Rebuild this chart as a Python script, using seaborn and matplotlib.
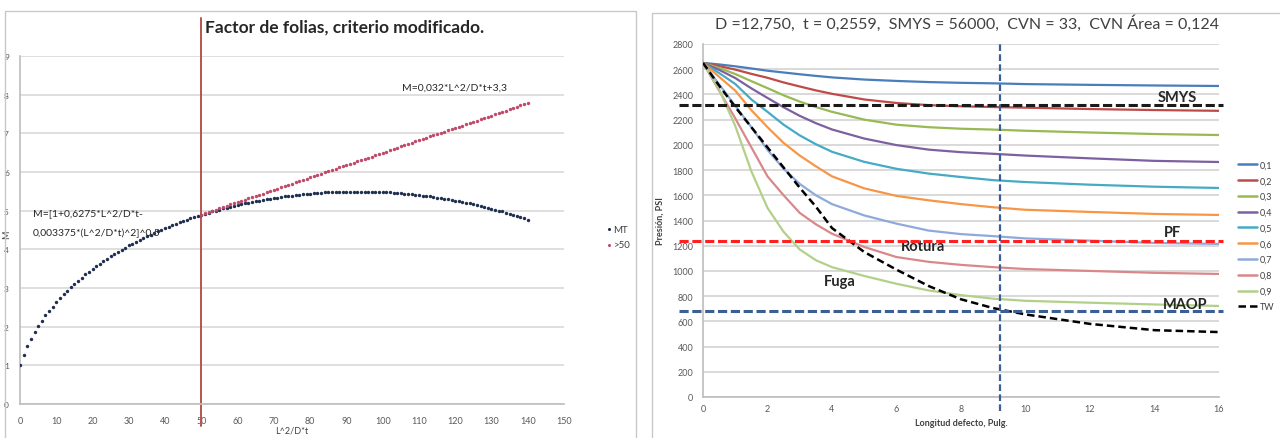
import matplotlib
matplotlib.use("Agg")
import matplotlib.pyplot as plt
from matplotlib.patches import Rectangle
from matplotlib.lines import Line2D
import pandas as pd
import seaborn as sns

# ---------------- left panel: Folias factor ----------------
Z_MT = list(range(0, 141))
M_MT = [1.00, 1.27, 1.50, 1.69, 1.86, 2.01, 2.15, 2.29, 2.41, 2.52,
        2.63, 2.74, 2.84, 2.93, 3.02, 3.11, 3.19, 3.27, 3.35, 3.42,
        3.49, 3.56, 3.63, 3.69, 3.76, 3.82, 3.88, 3.93, 3.99, 4.04,
        4.10, 4.15, 4.20, 4.25, 4.29, 4.34, 4.38, 4.43, 4.47, 4.51,
        4.55, 4.59, 4.63, 4.66, 4.70, 4.73, 4.77, 4.80, 4.83, 4.86,
        4.89, 4.92, 4.95, 4.98, 5.00, 5.03, 5.06, 5.08, 5.10, 5.13,
        5.15, 5.17, 5.19, 5.21, 5.23, 5.25, 5.26, 5.28, 5.30, 5.31,
        5.33, 5.34, 5.36, 5.37, 5.38, 5.39, 5.40, 5.41, 5.42, 5.43,
        5.44, 5.45, 5.46, 5.46, 5.47, 5.47, 5.48, 5.48, 5.48, 5.49,
        5.49, 5.49, 5.49, 5.49, 5.49, 5.49, 5.49, 5.49, 5.48, 5.48,
        5.48, 5.47, 5.47, 5.46, 5.45, 5.45, 5.44, 5.43, 5.42, 5.41,
        5.40, 5.39, 5.38, 5.37, 5.35, 5.34, 5.33, 5.31, 5.30, 5.28,
        5.26, 5.25, 5.23, 5.21, 5.19, 5.17, 5.15, 5.12, 5.10, 5.08,
        5.05, 5.03, 5.00, 4.98, 4.95, 4.92, 4.89, 4.86, 4.83, 4.80,
        4.76]
Z_50 = list(range(50, 141))
M_50 = [4.90, 4.93, 4.96, 5.00, 5.03, 5.06, 5.09, 5.12, 5.16, 5.19,
        5.22, 5.25, 5.28, 5.32, 5.35, 5.38, 5.41, 5.44, 5.48, 5.51,
        5.54, 5.57, 5.60, 5.64, 5.67, 5.70, 5.73, 5.76, 5.80, 5.83,
        5.86, 5.89, 5.92, 5.96, 5.99, 6.02, 6.05, 6.08, 6.12, 6.15,
        6.18, 6.21, 6.24, 6.28, 6.31, 6.34, 6.37, 6.40, 6.44, 6.47,
        6.50, 6.53, 6.56, 6.60, 6.63, 6.66, 6.69, 6.72, 6.76, 6.79,
        6.82, 6.85, 6.88, 6.92, 6.95, 6.98, 7.01, 7.04, 7.08, 7.11,
        7.14, 7.17, 7.20, 7.24, 7.27, 7.30, 7.33, 7.36, 7.40, 7.43,
        7.46, 7.49, 7.52, 7.56, 7.59, 7.62, 7.65, 7.68, 7.72, 7.75,
        7.78]
Z_LIMIT = 50
X_TICKS_L = list(range(0, 151, 10))
Y_TICKS_L = list(range(0, 10))

# ---------------- right panel: pressure vs defect length ----------------
LONGITUD = [0, 0.5, 1, 1.5, 2, 2.5, 3, 3.5, 4, 5, 6, 7, 8, 9, 10, 12, 14, 16]
P_01 = [2650, 2638, 2623, 2606, 2588, 2574, 2560, 2547, 2535, 2518, 2507, 2498, 2492, 2488, 2482, 2476, 2471, 2467]
P_02 = [2650, 2625, 2597, 2563, 2532, 2495, 2463, 2432, 2405, 2360, 2332, 2315, 2306, 2300, 2295, 2284, 2276, 2270]
P_03 = [2650, 2610, 2562, 2505, 2450, 2393, 2343, 2300, 2262, 2200, 2160, 2140, 2128, 2121, 2112, 2098, 2086, 2078]
P_04 = [2650, 2595, 2530, 2448, 2372, 2298, 2230, 2172, 2122, 2050, 1998, 1962, 1942, 1929, 1915, 1893, 1873, 1864]
P_05 = [2650, 2570, 2483, 2360, 2262, 2160, 2075, 2005, 1945, 1865, 1810, 1772, 1745, 1720, 1705, 1684, 1668, 1658]
P_06 = [2650, 2540, 2430, 2275, 2140, 2015, 1915, 1830, 1750, 1655, 1595, 1560, 1530, 1505, 1485, 1468, 1452, 1444]
P_07 = [2650, 2480, 2310, 2140, 1960, 1810, 1690, 1600, 1530, 1440, 1375, 1320, 1292, 1276, 1258, 1240, 1222, 1214]
P_08 = [2650, 2430, 2210, 1980, 1750, 1600, 1460, 1370, 1295, 1190, 1110, 1072, 1048, 1030, 1015, 1000, 985, 976]
P_09 = [2650, 2440, 2150, 1790, 1500, 1310, 1170, 1085, 1030, 960, 898, 845, 808, 780, 763, 748, 734, 722]
P_TW = [2650, 2470, 2300, 2140, 1980, 1820, 1660, 1510, 1340, 1150, 1010, 880, 775, 705, 655, 580, 530, 515]
CURVE_LABELS = ["0,1", "0,2", "0,3", "0,4", "0,5", "0,6", "0,7", "0,8", "0,9", "TW"]
CURVE_COLORS = ["#4a7ebb", "#be4b48", "#98b954", "#7d60a0", "#46aac5",
                "#f79646", "#8eaadb", "#d9888a", "#b3d08a", "#000000"]

P_SMYS = 2320
P_PF = 1240
P_MAOP = 680
L_CRIT = 9.2

GRID = "#d9d9d9"
TICK = "#595959"

sns.set_theme(style="white")
plt.rcParams["font.family"] = ["Lato", "DejaVu Sans"]

fig = plt.figure(figsize=(12.8, 4.39), dpi=100)

# panel frames
fig.patches.append(Rectangle((5 / 1280, -0.02), 631 / 1280, 1.006 - 6 / 439,
                             transform=fig.transFigure, fill=False,
                             edgecolor="#c8c8c8", lw=1.0))
fig.patches.append(Rectangle((652 / 1280, -0.02), 0.5, 1.004 - 7 / 439,
                             transform=fig.transFigure, fill=False,
                             edgecolor="#c8c8c8", lw=1.0))

# ---------- left axes ----------
ax1 = fig.add_axes([20 / 1280, 1 - 405 / 439, 544 / 1280, 348 / 439])
ax1.set_xlim(0, 150)
ax1.set_ylim(0, 9)
ax1.set_xticks(X_TICKS_L)
ax1.set_yticks(Y_TICKS_L)
ax1.yaxis.grid(True, color=GRID, lw=1.2)
ax1.set_axisbelow(True)

sns.scatterplot(x=Z_MT, y=M_MT, ax=ax1, color="#1f2f4f", s=6, linewidth=0,
                label="MT", zorder=3)
sns.scatterplot(x=Z_50, y=M_50, ax=ax1, color="#c04a6a", s=6, linewidth=0,
                label=">50", zorder=4)
ax1.axvline(Z_LIMIT, ymin=-0.063, ymax=1.108, color="#b8534e", lw=1.4,
            clip_on=False, zorder=2)

for side in ["top", "right"]:
    ax1.spines[side].set_visible(False)
for side in ["left", "bottom"]:
    ax1.spines[side].set_color("#bfbfbf")
ax1.tick_params(axis="x", length=3, color="#bfbfbf", labelsize=6.5,
                labelcolor=TICK, pad=6)
ax1.tick_params(axis="y", length=0, labelsize=6, labelcolor=TICK, pad=8)
ax1.set_xlabel("L^2/D*t", fontsize=6.5, color="#404040", labelpad=0)
ax1.xaxis.set_label_coords(0.50, -0.062)
ax1.set_ylabel("M", fontsize=6.5, color="#404040")
ax1.yaxis.set_label_coords(-0.016, 0.49)

ax1.text(3.6, 4.96, "M=[1+0,6275*L^2/D*t-", fontsize=7.5, color="#262626",
         va="center")
ax1.text(3.6, 4.44, "0,003375*(L^2/D*t)^2]^0,5", fontsize=7.5,
         color="#262626", va="center")
ax1.text(105.3, 8.19, "M=0,032*L^2/D*t+3,3", fontsize=7.5, color="#262626",
         va="center")
fig.text(205 / 1280, 1 - 28 / 439, "Factor de folias, criterio modificado.",
         fontsize=12.5, fontweight="bold", color="#262626", va="center")

ax1.legend(loc="center left", bbox_to_anchor=(600 / 1280, 1 - 238 / 439),
           bbox_transform=fig.transFigure, frameon=False, fontsize=7,
           handletextpad=0.1, labelspacing=0.7, handlelength=0.8,
           borderpad=0, markerscale=0.9, labelcolor="#404040")

# ---------- right axes ----------
ax2 = fig.add_axes([703 / 1280, 1 - 398 / 439, 516 / 1280, 353 / 439])
ax2.set_xlim(0, 16)
ax2.set_ylim(0, 2800)
ax2.set_xticks(range(0, 17, 2))
ax2.set_yticks(range(0, 2801, 200))
ax2.yaxis.grid(True, color=GRID, lw=1.4)
ax2.set_axisbelow(True)

curves = [P_01, P_02, P_03, P_04, P_05, P_06, P_07, P_08, P_09, P_TW]
df = pd.DataFrame({
    "longitud": LONGITUD * len(curves),
    "presion": [p for c in curves for p in c],
    "serie": [lab for lab in CURVE_LABELS for _ in LONGITUD],
})
palette = dict(zip(CURVE_LABELS, CURVE_COLORS))
for lab in CURVE_LABELS:
    sub = df[df["serie"] == lab]
    if lab == "TW":
        sns.lineplot(data=sub, x="longitud", y="presion", ax=ax2,
                     color=palette[lab], lw=1.8, dashes=False,
                     linestyle=(0, (3, 1.6)), legend=False, zorder=4)
    else:
        sns.lineplot(data=sub, x="longitud", y="presion", ax=ax2,
                     color=palette[lab], lw=1.6, legend=False, zorder=3)

# reference lines
ax2.axhline(P_SMYS, xmin=-0.047, xmax=1.008, color="#1a1a1a", lw=2.2,
            linestyle=(0, (3, 1.2)), clip_on=False, zorder=5)
ax2.axhline(P_PF, xmin=-0.047, xmax=1.008, color="#ff2020", lw=2.2,
            linestyle=(0, (3, 1.2)), clip_on=False, zorder=5)
ax2.axhline(P_MAOP, xmin=-0.047, xmax=1.008, color="#3b5f95", lw=2.2,
            linestyle=(0, (3, 1.2)), clip_on=False, zorder=5)
ax2.axvline(L_CRIT, ymin=-0.04, ymax=1.0, color="#3b5f95", lw=1.6,
            linestyle=(0, (3, 1.5)), clip_on=False, zorder=5)

for txt, x, y in [("SMYS", 14.7, 2380), ("PF", 14.57, 1309),
                  ("MAOP", 14.95, 738), ("Rotura", 6.82, 1200),
                  ("Fuga", 4.25, 920)]:
    ax2.text(x, y, txt, fontsize=10.5, fontweight="bold", color="#262626",
             ha="center", va="center", zorder=4.5)

for side in ["top", "right"]:
    ax2.spines[side].set_visible(False)
for side in ["left", "bottom"]:
    ax2.spines[side].set_color("#bfbfbf")
ax2.tick_params(axis="both", length=0, labelsize=6.5, labelcolor=TICK)
ax2.tick_params(axis="y", pad=7)
ax2.tick_params(axis="x", pad=5)
ax2.set_xlabel("Longitud defecto, Pulg.", fontsize=6.5, fontweight="bold",
               color="#404040", labelpad=0)
ax2.xaxis.set_label_coords(0.50, -0.06)
ax2.set_ylabel("Presión, PSI", fontsize=6.5, fontweight="bold",
               color="#404040")
ax2.yaxis.set_label_coords(-0.074, 0.5)
fig.text(967 / 1280, 1 - 24 / 439,
         "D =12,750,  t = 0,2559,  SMYS = 56000,  CVN = 33,  CVN Área = 0,124",
         fontsize=11.5, color="#404040", ha="center", va="center")

handles = []
for lab in CURVE_LABELS:
    if lab == "TW":
        handles.append(Line2D([], [], color=palette[lab], lw=1.8,
                              linestyle=(0, (3, 1.6))))
    else:
        handles.append(Line2D([], [], color=palette[lab], lw=1.8))
ax2.legend(handles, CURVE_LABELS, loc="center left",
           bbox_to_anchor=(1233 / 1280, 1 - 237 / 439),
           bbox_transform=fig.transFigure, frameon=False, fontsize=6.5,
           handlelength=2.2, handletextpad=0.3, labelspacing=0.75,
           borderpad=0, labelcolor="#404040")

fig.savefig("out.png", dpi=100)
